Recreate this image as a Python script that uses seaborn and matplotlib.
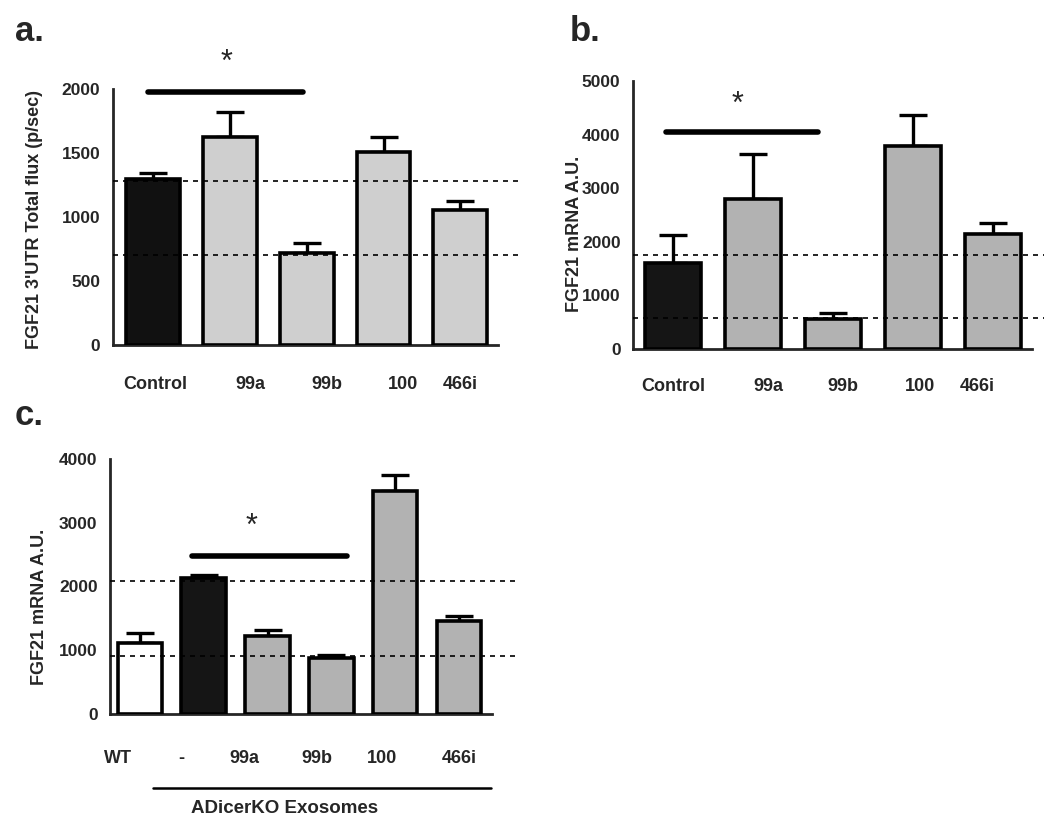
import numpy as np
import pandas as pd
import matplotlib
matplotlib.use("Agg")
import matplotlib.pyplot as plt
import matplotlib.transforms as mtransforms
import seaborn as sns

# panel a: luciferase FGF21 3'UTR
cats_a = ["Control", "99a", "99b", "100", "466i"]
mean_a = [1300, 1625, 720, 1510, 1055]
top_a = [1340, 1820, 800, 1625, 1125]
dash_a = [1280, 700]
shift_a = [0.03, 0.27, 0.26, 0.26, 0.0]

# panel b: FGF21 mRNA
cats_b = ["Control", "99a", "99b", "100", "466i"]
mean_b = [1610, 2800, 560, 3790, 2145]
top_b = [2130, 3630, 675, 4365, 2350]
dash_b = [1750, 580]
shift_b = [0.0, 0.19, 0.12, 0.09, -0.19]

# panel c: exosome treatment
cats_c = ["WT", "-", "99a", "99b", "100", "466i"]
mean_c = [1115, 2130, 1225, 880, 3500, 1460]
top_c = [1270, 2180, 1318, 925, 3750, 1537]
dash_c = [2090, 910]
shift_c = [-0.34, -0.36, -0.36, -0.22, -0.2, 0.0]

sns.set_style("white")
plt.rcParams["font.family"] = ["Liberation Sans", "DejaVu Sans"]
plt.rcParams["font.weight"] = "bold"

fig = plt.figure(figsize=(10.5, 8.3), dpi=100)
ax_a = fig.add_axes([0.1076, 0.5843, 0.3667, 0.3085])
ax_b = fig.add_axes([0.6029, 0.5795, 0.3800, 0.3229])
ax_c = fig.add_axes([0.1048, 0.1398, 0.3638, 0.3072])


def panel(ax, cats, means, tops, colors, dashes, shifts, ymax, step, xlim,
          ylabel, label_y, dash_end):
    df = pd.DataFrame({"group": cats, "value": means})
    sns.barplot(data=df, x="group", y="value", hue="group", palette=colors,
                order=cats, hue_order=cats, legend=False, width=0.7,
                edgecolor="black", linewidth=2.6, saturation=1, ax=ax, zorder=3)
    x = np.arange(len(cats))
    up = np.array(tops) - np.array(means)
    ax.errorbar(x, means, yerr=[np.zeros(len(x)), up], fmt="none",
                ecolor="black", elinewidth=2.4, capsize=10, capthick=2.4, zorder=2)
    for d in dashes:
        ax.plot([0, dash_end], [d, d], ls=(0, (3, 3)), color="black", lw=1.2,
                transform=mtransforms.blended_transform_factory(ax.transAxes, ax.transData),
                clip_on=False, zorder=4)
    ax.set_ylim(0, ymax)
    ax.set_xlim(*xlim)
    ax.set_yticks(np.arange(0, ymax + 1, step))
    ax.set_xticks(x)
    ax.set_xticklabels([])
    ax.tick_params(axis="both", direction="out", length=7, width=2, labelsize=12.5)
    ax.tick_params(axis="y", pad=2)
    for t in ax.get_yticklabels():
        t.set_fontweight("bold")
    sns.despine(ax=ax)
    for s in ["left", "bottom"]:
        ax.spines[s].set_linewidth(2)
    ax.set_xlabel("")
    ax.set_ylabel(ylabel, fontsize=13, fontweight="bold")
    trans = mtransforms.blended_transform_factory(ax.transData, ax.transAxes)
    for i, c in enumerate(cats):
        ax.text(i + shifts[i], label_y, c, transform=trans, ha="center",
                va="center", fontsize=13, fontweight="bold")
    return trans


def sig(ax, x0, x1, y, xs, ys):
    ax.plot([x0, x1], [y, y], color="black", lw=4, clip_on=False,
            solid_capstyle="round")
    ax.text(xs, ys, "*", ha="center", va="center", fontsize=22,
            fontweight="normal", clip_on=False)


# panel a
panel(ax_a, cats_a, mean_a, top_a, ["#111111"] + ["#cfcfcf"] * 4, dash_a,
      shift_a, 2000, 500, (-0.52, 4.49), "FGF21 3'UTR Total flux (p/sec)",
      -0.156, 1.06)
ax_a.yaxis.set_label_coords(-0.182, 0.49)
sig(ax_a, -0.06, 1.95, 1977, 0.96, 2200)

# panel b
panel(ax_b, cats_b, mean_b, top_b, ["#151515"] + ["#b2b2b2"] * 4, dash_b,
      shift_b, 5000, 1000, (-0.5, 4.49), "FGF21 mRNA A.U.", -0.14, 1.03)
ax_b.yaxis.set_label_coords(-0.125, 0.43)
sig(ax_b, -0.09, 1.81, 4050, 0.81, 4560)

# panel c
trans_c = panel(ax_c, cats_c, mean_c, top_c,
                ["#ffffff", "#151515"] + ["#b2b2b2"] * 4, dash_c, shift_c,
                4000, 1000, (-0.47, 5.52), "FGF21 mRNA A.U.", -0.173, 1.07)
ax_c.yaxis.set_label_coords(-0.162, 0.42)
sig(ax_c, 0.82, 3.24, 2478, 1.75, 2930)
ax_c.plot([0.2, 5.5], [-0.29, -0.29], color="black", lw=1.8,
          transform=trans_c, clip_on=False)
ax_c.text(2.27, -0.37, "ADicerKO Exosomes", transform=trans_c, ha="center",
          va="center", fontsize=13.5, fontweight="bold")

# panel letters
fig.text(0.014, 0.962, "a.", fontsize=25, fontweight="bold", va="center")
fig.text(0.543, 0.962, "b.", fontsize=25, fontweight="bold", va="center")
fig.text(0.014, 0.500, "c.", fontsize=25, fontweight="bold", va="center")

fig.savefig("out.png", dpi=100)
